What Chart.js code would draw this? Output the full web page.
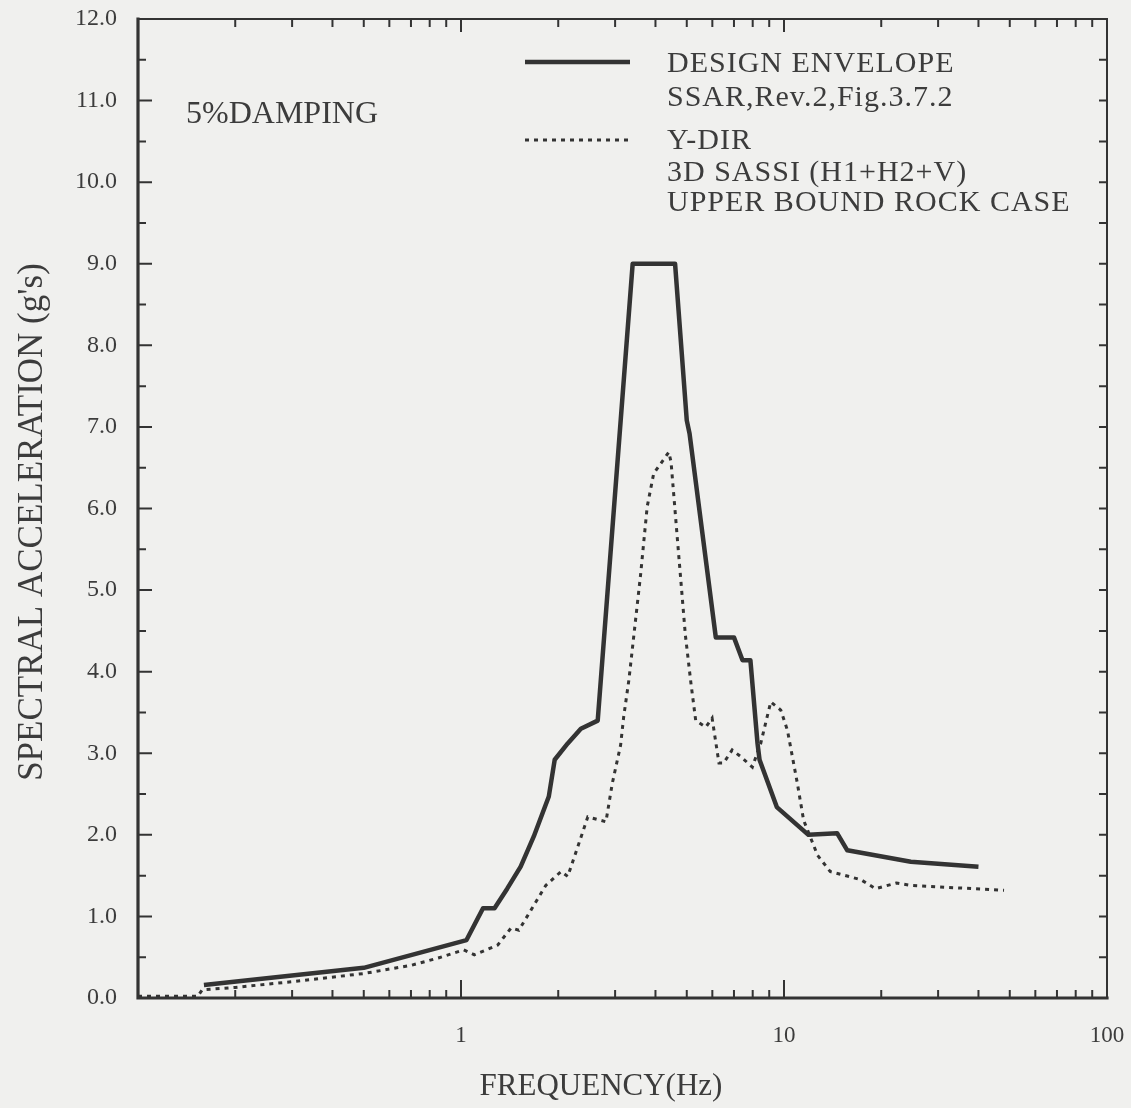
<!DOCTYPE html>
<html>
<head>
<meta charset="utf-8">
<script src="https://cdn.jsdelivr.net/npm/chart.js@4.4.1/dist/chart.umd.min.js"></script>
<style>
  html, body { margin: 0; padding: 0; background: #f0f0ee; }
  #wrap { width: 1131px; height: 1108px; position: relative; }
</style>
</head>
<body>
<div id="wrap"><canvas id="c" width="1131" height="1108"></canvas></div>
<script>
// ---- Data ----
const envFreq = [0.16, 0.5, 1.04, 1.17, 1.27, 1.39, 1.53, 1.68, 1.87, 1.95, 2.14, 2.35, 2.65, 3.4, 4.6, 5.0, 5.1, 6.15, 7.0, 7.44, 7.87, 8.28, 8.4, 9.5, 11.9, 14.6, 15.7, 24.7, 40];
const envAcc  = [0.16, 0.37, 0.71, 1.10, 1.10, 1.34, 1.61, 1.98, 2.47, 2.92, 3.12, 3.30, 3.40, 9.00, 9.00, 7.08, 6.92, 4.42, 4.42, 4.14, 4.14, 3.12, 2.92, 2.34, 2.00, 2.02, 1.81, 1.67, 1.61];

const ydirFreq = [0.1, 0.153, 0.158, 0.2, 0.3, 0.5, 0.7, 0.85, 1.02, 1.1, 1.3, 1.43, 1.51, 1.83, 2.04, 2.14, 2.47, 2.81, 2.94, 3.12, 3.19, 3.31, 3.43, 3.6, 3.77, 3.95, 4.4, 4.47, 4.68, 4.95, 5.15, 5.33, 5.73, 5.99, 6.29, 6.5, 6.91, 7.34, 7.98, 8.47, 9.1, 9.77, 10.25, 11.0, 11.5, 12.7, 13.9, 17.3, 19.2, 22.3, 24.7, 48];
const ydirAcc  = [0.02, 0.02, 0.10, 0.13, 0.20, 0.30, 0.40, 0.49, 0.59, 0.53, 0.65, 0.86, 0.83, 1.38, 1.55, 1.49, 2.22, 2.16, 2.63, 3.10, 3.45, 3.90, 4.45, 5.20, 6.02, 6.43, 6.69, 6.57, 5.61, 4.45, 3.86, 3.40, 3.32, 3.43, 2.88, 2.88, 3.04, 2.96, 2.83, 3.12, 3.63, 3.53, 3.28, 2.63, 2.18, 1.75, 1.55, 1.45, 1.34, 1.41, 1.38, 1.32];

const xTickLabels = [1, 10, 100];
const yTickValues = [0, 1, 2, 3, 4, 5, 6, 7, 8, 9, 10, 11, 12];

const legendSolidLines = ["DESIGN ENVELOPE", "SSAR,Rev.2,Fig.3.7.2"];
const legendDottedLines = ["Y-DIR", "3D SASSI (H1+H2+V)", "UPPER BOUND ROCK CASE"];
const annotationText = "5%DAMPING";
const xTitle = "FREQUENCY(Hz)";
const yTitle = "SPECTRAL ACCELERATION (g's)";

// ---- Styling ----
const INK = '#333333';
const TEXT = '#3c3c3c';
const FONT = '"Liberation Serif", "Times New Roman", serif';

const envData = envFreq.map((f, i) => ({ x: f, y: envAcc[i] }));
const ydirData = ydirFreq.map((f, i) => ({ x: f, y: ydirAcc[i] }));

const bgPlugin = {
  id: 'bg',
  beforeDraw(chart) {
    const ctx = chart.ctx;
    ctx.save();
    ctx.fillStyle = '#f0f0ee';
    ctx.fillRect(0, 0, chart.width, chart.height);
    ctx.restore();
  }
};

const framePlugin = {
  id: 'frame',
  afterDraw(chart) {
    const { ctx, chartArea: a, scales } = chart;
    const xs = scales.x, ys = scales.y;
    ctx.save();
    ctx.strokeStyle = INK;
    ctx.lineCap = 'square';
    ctx.lineWidth = 2;
    ctx.beginPath();
    ctx.moveTo(a.left, a.top); ctx.lineTo(a.right, a.top); ctx.lineTo(a.right, a.bottom);
    ctx.stroke();
    ctx.lineWidth = 3.2;
    ctx.beginPath();
    ctx.moveTo(a.left, a.top); ctx.lineTo(a.left, a.bottom); ctx.lineTo(a.right, a.bottom);
    ctx.stroke();
    ctx.lineWidth = 2;
    for (let v = ys.min; v <= ys.max + 1e-9; v += 0.5) {
      const py = ys.getPixelForValue(v);
      const major = Math.abs(v - Math.round(v)) < 1e-9;
      ctx.beginPath();
      ctx.moveTo(a.left, py); ctx.lineTo(a.left + (major ? 13 : 7), py);
      ctx.moveTo(a.right, py); ctx.lineTo(a.right - 7, py);
      ctx.stroke();
    }
    for (let d = 0.1; d < 100; d *= 10) {
      for (let m = 1; m <= 9; m++) {
        const v = d * m;
        if (v < xs.min || v > xs.max) continue;
        const px = xs.getPixelForValue(v);
        const major = (m === 1);
        ctx.beginPath();
        ctx.moveTo(px, a.bottom); ctx.lineTo(px, a.bottom - (major ? 17 : 7));
        ctx.moveTo(px, a.top); ctx.lineTo(px, a.top + (major ? 12 : 7));
        ctx.stroke();
      }
    }
    ctx.restore();
  }
};

const textPlugin = {
  id: 'texts',
  afterDraw(chart) {
    const { ctx } = chart;
    ctx.save();
    ctx.fillStyle = TEXT;
    ctx.textBaseline = 'alphabetic';
    ctx.textAlign = 'left';
    ctx.font = '32px ' + FONT;
    ctx.fillText(annotationText, 186, 123);
    ctx.font = '30px ' + FONT;
    if ('letterSpacing' in ctx) ctx.letterSpacing = '1px';
    const solidBase = [72, 106];
    const dotBase = [149, 181, 211];
    legendSolidLines.forEach((t, i) => ctx.fillText(t, 667, solidBase[i]));
    legendDottedLines.forEach((t, i) => ctx.fillText(t, 667, dotBase[i]));
    if ('letterSpacing' in ctx) ctx.letterSpacing = '0px';
    ctx.strokeStyle = INK;
    ctx.lineWidth = 4.5;
    ctx.beginPath(); ctx.moveTo(525, 62); ctx.lineTo(630, 62); ctx.stroke();
    ctx.lineWidth = 3;
    ctx.setLineDash([4, 5]);
    ctx.beginPath(); ctx.moveTo(525, 140); ctx.lineTo(630, 140); ctx.stroke();
    ctx.setLineDash([]);
    ctx.font = '31px ' + FONT;
    ctx.textAlign = 'center';
    ctx.fillText(xTitle, 601, 1095);
    ctx.translate(42, 522);
    ctx.rotate(-Math.PI / 2);
    ctx.font = '35px ' + FONT;
    ctx.fillText(yTitle, 0, 0);
    ctx.restore();
  }
};

new Chart(document.getElementById('c'), {
  type: 'line',
  data: {
    datasets: [
      {
        label: legendSolidLines[0],
        data: envData,
        borderColor: INK,
        borderWidth: 4.5,
        pointRadius: 0,
        tension: 0,
        fill: false,
        borderJoinStyle: 'round'
      },
      {
        label: legendDottedLines[0],
        data: ydirData,
        borderColor: INK,
        borderWidth: 3,
        borderDash: [4, 5],
        pointRadius: 0,
        tension: 0,
        fill: false
      }
    ]
  },
  options: {
    responsive: false,
    animation: false,
    devicePixelRatio: 1,
    layout: { padding: { top: 19, right: 24, left: 0, bottom: 0 } },
    plugins: { legend: { display: false }, tooltip: { enabled: false }, title: { display: false } },
    scales: {
      x: {
        type: 'logarithmic',
        min: 0.1,
        max: 100,
        grid: { display: false, drawTicks: false },
        border: { display: false },
        afterBuildTicks(scale) { scale.ticks = xTickLabels.map(v => ({ value: v })); },
        afterFit(scale) { scale.height = 110; scale.paddingLeft = 0; scale.paddingRight = 0; },
        ticks: {
          autoSkip: false,
          maxRotation: 0,
          padding: 24,
          color: TEXT,
          font: { family: FONT, size: 23 },
          callback: (v) => String(v)
        }
      },
      y: {
        type: 'linear',
        min: 0,
        max: 12,
        grid: { display: false, drawTicks: false },
        border: { display: false },
        afterBuildTicks(scale) { scale.ticks = yTickValues.map(v => ({ value: v })); },
        afterFit(scale) { scale.width = 138; scale.paddingTop = 0; scale.paddingBottom = 0; },
        ticks: {
          padding: 21,
          color: TEXT,
          font: { family: FONT, size: 24 },
          callback: (v) => Number(v).toFixed(1)
        }
      }
    }
  },
  plugins: [bgPlugin, framePlugin, textPlugin]
});
</script>
</body>
</html>
